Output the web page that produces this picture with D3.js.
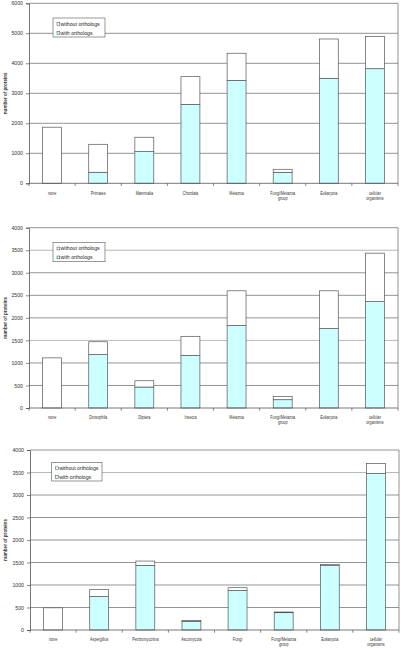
<!DOCTYPE html>
<html><head><meta charset="utf-8">
<script src="https://cdn.jsdelivr.net/npm/d3@7"></script>
<style>html,body{margin:0;padding:0;background:#fff;}svg{display:block;}</style>
</head><body>
<script>
// ---- data ----
const categories1 = ["none","Primates","Mammalia","Chordata","Metazoa","Fungi/Metazoa group","Eukaryota","cellular organisms"];
const withOrth1    = [0, 367, 1055, 2630, 3430, 367, 3500, 3820];
const withoutOrth1 = [1870, 933, 480, 925, 905, 100, 1310, 1070];
const ticks1 = [0,1000,2000,3000,4000,5000,6000];

const categories2 = ["none","Drosophila","Diptera","Insecta","Metazoa","Fungi/Metazoa group","Eukaryota","cellular organisms"];
const withOrth2    = [0, 1185, 465, 1165, 1830, 184, 1763, 2360];
const withoutOrth2 = [1112, 285, 140, 425, 770, 73, 837, 1075];
const ticks2 = [0,500,1000,1500,2000,2500,3000,3500,4000];

const categories3 = ["none","Aspergillus","Pezizomycotina","Ascomycota","Fungi","Fungi/Metazoa group","Eukaryota","cellular organisms"];
const withOrth3    = [0, 745, 1437, 193, 878, 385, 1430, 3475];
const withoutOrth3 = [493, 155, 95, 20, 62, 15, 23, 225];
const ticks3 = [0,500,1000,1500,2000,2500,3000,3500,4000];

const seriesNames = ["without orthologs","with orthologs"];
const yTitle = "number of proteins";

// ---- layout ----
const W = 402, H = 649;
const svg = d3.select("body").append("svg").attr("width",W).attr("height",H)
  .style("font-family","'Liberation Sans', Arial, sans-serif");

const panels = [
  {cats:categories1, w:withOrth1, wo:withoutOrth1, ticks:ticks1, left:29, right:398, y0:183.3, y1:3.3, light:[], leg:[53,18,52,19]},
  {cats:categories2, w:withOrth2, wo:withoutOrth2, ticks:ticks2, left:29, right:398, y0:408, y1:227.7, light:[1500,3500], leg:[53,242.3,52,19.4]},
  {cats:categories3, w:withOrth3, wo:withoutOrth3, ticks:ticks3, left:30, right:399, y0:630, y1:450, light:[3500], leg:[51.7,462.3,50.3,18.7]}
];

const stroke = "#555";
const cyan = "#ccffff";

panels.forEach(p => {
  const g = svg.append("g");
  const maxV = p.ticks[p.ticks.length-1];
  const y = d3.scaleLinear().domain([0,maxV]).range([p.y0,p.y1]);
  const x = d3.scaleBand().domain(p.cats).range([p.left,p.right]).paddingInner(0.59).paddingOuter(0.295);
  const xb = d3.scaleBand().domain(p.cats).range([p.left,p.right]);

  // gridlines
  g.selectAll("line.grid").data(p.ticks.filter(t=>t>0)).join("line")
    .attr("x1",p.left).attr("x2",p.right)
    .attr("y1",d=>y(d)).attr("y2",d=>y(d))
    .attr("stroke",d=>p.light.includes(d)?"#b8b8b8":"#666")
    .attr("stroke-width",d=>p.light.includes(d)?1:0.7);
  // right border
  g.append("line").attr("x1",p.right).attr("x2",p.right).attr("y1",p.y1).attr("y2",p.y0)
    .attr("stroke","#666").attr("stroke-width",0.7);

  // y axis
  const ya = d3.axisLeft(y).tickValues(p.ticks).tickSize(3).tickPadding(3).tickFormat(d3.format("d"));
  const yg = g.append("g").attr("transform",`translate(${p.left},0)`).call(ya);
  yg.select(".domain").attr("stroke","#555").attr("stroke-width",0.8);
  yg.selectAll(".tick line").attr("stroke","#555").attr("stroke-width",0.7);
  yg.selectAll(".tick text").attr("font-size",5.2).attr("fill","#333").attr("font-family","'Liberation Sans', Arial, sans-serif");

  // bars: with (bottom, cyan)
  const data = p.cats.map((c,i)=>({c, w:p.w[i], wo:p.wo[i]}));
  g.selectAll("rect.with").data(data).join("rect")
    .attr("x",d=>x(d.c)).attr("width",x.bandwidth())
    .attr("y",d=>y(d.w)).attr("height",d=>y(0)-y(d.w))
    .attr("fill",cyan).attr("stroke",stroke).attr("stroke-width",0.7);
  g.selectAll("rect.without").data(data).join("rect")
    .attr("x",d=>x(d.c)).attr("width",x.bandwidth())
    .attr("y",d=>y(d.w+d.wo)).attr("height",d=>y(d.w)-y(d.w+d.wo))
    .attr("fill","#fff").attr("stroke",stroke).attr("stroke-width",0.7);

  // x axis
  g.append("line").attr("x1",p.left).attr("x2",p.right).attr("y1",p.y0).attr("y2",p.y0)
    .attr("stroke","#555").attr("stroke-width",0.8);
  const bounds = p.cats.map(c=>xb(c)).concat([p.right]);
  g.selectAll("line.xt").data(bounds).join("line")
    .attr("x1",d=>d).attr("x2",d=>d).attr("y1",p.y0).attr("y2",p.y0+2.7)
    .attr("stroke","#555").attr("stroke-width",0.7);

  // category labels
  const lab = g.selectAll("text.cat").data(p.cats).join("text")
    .attr("text-anchor","middle").attr("font-size",4.6).attr("fill","#333")
    .attr("transform",c=>`translate(${xb(c)+xb.bandwidth()/2},${p.y0+11.3}) scale(0.82,1)`);
  lab.each(function(c){
    const words = c.split(" ");
    const t = d3.select(this);
    if (words.length === 1) t.append("tspan").attr("x",0).attr("y",0).text(c);
    else {
      t.append("tspan").attr("x",0).attr("y",0).text(words[0]);
      t.append("tspan").attr("x",0).attr("y",5.2).text(words.slice(1).join(" "));
    }
  });

  // y title
  g.append("text").attr("transform",`translate(6.5,${(p.y0+p.y1)/2}) rotate(-90)`)
    .attr("text-anchor","middle").attr("font-size",4.6).attr("font-weight","bold").attr("fill","#333")
    .text(yTitle);

  // legend
  const [lx,ly,lw,lh] = p.leg;
  const lg = g.append("g");
  lg.append("rect").attr("x",lx).attr("y",ly).attr("width",lw).attr("height",lh)
    .attr("fill","#fff").attr("stroke","#555").attr("stroke-width",0.6);
  seriesNames.forEach((s,i)=>{
    const cy = ly + lh*(0.32 + i*0.46);
    lg.append("rect").attr("x",lx+4).attr("y",cy-1.4).attr("width",2.8).attr("height",2.8)
      .attr("fill",i===0?"#fff":cyan).attr("stroke","#444").attr("stroke-width",0.5);
    lg.append("text").attr("x",lx+7.5).attr("y",cy+1.8).attr("font-size",5.2).attr("fill","#222").text(s);
  });
});
</script>
</body></html>
